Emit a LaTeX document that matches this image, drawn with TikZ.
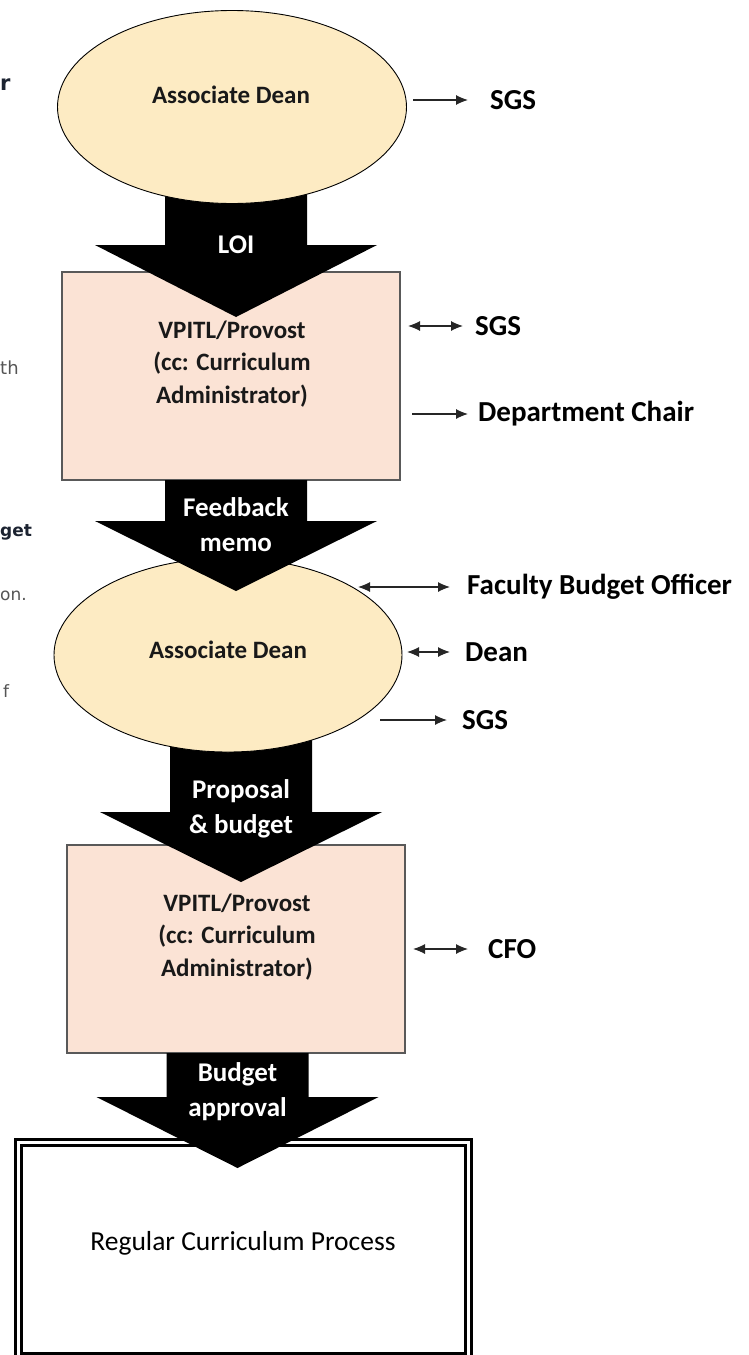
\documentclass[tikz,border=0pt]{standalone}
\usepackage{fontspec}
\setmainfont{Carlito}
\newfontfamily\fragfont{DejaVu Sans}
\usetikzlibrary{arrows.meta,shapes.geometric}

\definecolor{deanfill}{HTML}{FDEBC3}
\definecolor{provfill}{HTML}{FBE3D5}
\definecolor{boxedge}{HTML}{595959}
\definecolor{fraggray}{HTML}{555555}
\definecolor{fragdark}{HTML}{1C2331}

\tikzset{
  dean/.style={ellipse, draw=black, line width=0.9pt, fill=deanfill,
    minimum width=349pt, minimum height=193pt, inner sep=0pt},
  provost/.style={rectangle, draw=boxedge, line width=1.2pt, fill=provfill,
    minimum width=338pt, minimum height=208pt, inner sep=0pt},
  nodetext/.style={font=\bfseries\fontsize{25}{32.5}\selectfont, align=center,
    text=black!90, inner sep=0pt},
  flowlabel/.style={font=\bfseries\fontsize{27}{35}\selectfont, align=center,
    text=white, inner sep=0pt},
  sidelabel/.style={font=\bfseries\fontsize{29}{35}\selectfont, anchor=west,
    inner sep=0pt, text=black},
  tip/.style={Latex[length=12pt,width=10pt]},
  oneway/.style={draw=black!85, line width=1.1pt, -{Latex[length=12pt,width=10pt]}},
  twoway/.style={draw=black!85, line width=1.1pt,
    {Latex[length=12pt,width=10pt]}-{Latex[length=12pt,width=10pt]}},
  blockarrow/.style={fill=black, draw=none},
  dblbox/.style={draw=black, double=white, line width=3pt, double distance=3pt},
  frag/.style={anchor=base west, inner sep=0pt,
    font=\fragfont\fontsize{17}{20}\selectfont, text=fraggray},
  fragbold/.style={frag, font=\fragfont\bfseries\fontsize{17}{20}\selectfont, text=fragdark},
}

% block arrow: centre x, shaft top y, head base y, tip y
\newcommand{\flowarrow}[4]{%
  \fill[blockarrow] (#1-71,#2) -- (#1+71,#2) -- (#1+71,#3) -- (#1+141,#3)
    -- (#1,#4) -- (#1-141,#3) -- (#1-71,#3) -- cycle;}

\begin{document}
\begin{tikzpicture}[x=1pt,y=-1pt]
\useasboundingbox (0,0) rectangle (748,1355);

% cut-off words of the neighbouring text column
\node[fragbold, font=\fragfont\bfseries\fontsize{21}{22}\selectfont] (f1) at (0,90) {r};
\node[frag, font=\fragfont\fontsize{18}{20}\selectfont] (f2) at (0,374) {th};
\node[fragbold] (f3) at (0,536) {get};
\node[frag] (f4) at (0,600) {on.};
\node[frag] (f5) at (3,697) {f};

% boxes
\node[provost] (p1) at (231,376) {};
\node[provost] (p2) at (236,949) {};
\draw[dblbox] (18.5,1142) rectangle (468.5,1356);
\node[font=\fontsize{27.5}{33}\selectfont, text=black, inner sep=0pt] (rcp) at (243,1243)
  {Regular Curriculum Process};

% Proposal & budget (under the second ellipse)
\flowarrow{241}{735}{812}{882}
\node[flowlabel] (lab3) at (241,809) {Proposal\\\& budget};

% second Associate Dean
\node[dean, minimum width=348pt, minimum height=194pt] (d2) at (228,655) {};
\node[nodetext] (d2t) at (228,650) {Associate Dean};

% LOI (under the first ellipse)
\flowarrow{236}{185}{245}{317}
\node[flowlabel] (lab1) at (236,245) {LOI};

% first Associate Dean
\node[dean] (d1) at (232,107) {};
\node[nodetext] (d1t) at (231,95) {Associate Dean};

% Feedback memo
\flowarrow{236}{480}{521}{591}
\node[flowlabel] (lab2) at (236,525) {Feedback\\memo};

% Budget approval
\flowarrow{237.5}{1053}{1097}{1168}
\node[flowlabel] (lab4) at (237.5,1092) {Budget\\approval};

% box texts
\node[nodetext] (p1t) at (232,364) {VPITL/Provost\\(cc: Curriculum\\Administrator)};
\node[nodetext] (p2t) at (237,937) {VPITL/Provost\\(cc: Curriculum\\Administrator)};

% side contacts
\node[sidelabel] (s1) at (490,100) {SGS};
\coordinate (s1a) at (413,100);
\draw[oneway] (s1a) -- ([xshift=-22pt]s1.west);

\node[sidelabel] (s2) at (475,326) {SGS};
\coordinate (s2a) at (408,326);
\draw[twoway] (s2a) -- ([xshift=-12pt]s2.west);

\node[sidelabel] (s3) at (478,414) {Department Chair};
\coordinate (s3a) at (412,414);
\draw[oneway] (s3a) -- ([xshift=-10pt]s3.west);

\node[sidelabel] (s4) at (467,587) {Faculty Budget Officer};
\coordinate (s4a) at (358,587);
\draw[twoway] (s4a) -- ([xshift=-17pt]s4.west);

\node[sidelabel] (s5) at (465,652) {Dean};
\coordinate (s5a) at (407,652);
\draw[twoway] (s5a) -- ([xshift=-15pt]s5.west);

\node[sidelabel] (s6) at (462,720) {SGS};
\coordinate (s6a) at (380,720);
\draw[oneway] (s6a) -- ([xshift=-15pt]s6.west);

\node[sidelabel] (s7) at (488,949) {CFO};
\coordinate (s7a) at (413,949);
\draw[twoway] (s7a) -- ([xshift=-20pt]s7.west);
\end{tikzpicture}
\end{document}
